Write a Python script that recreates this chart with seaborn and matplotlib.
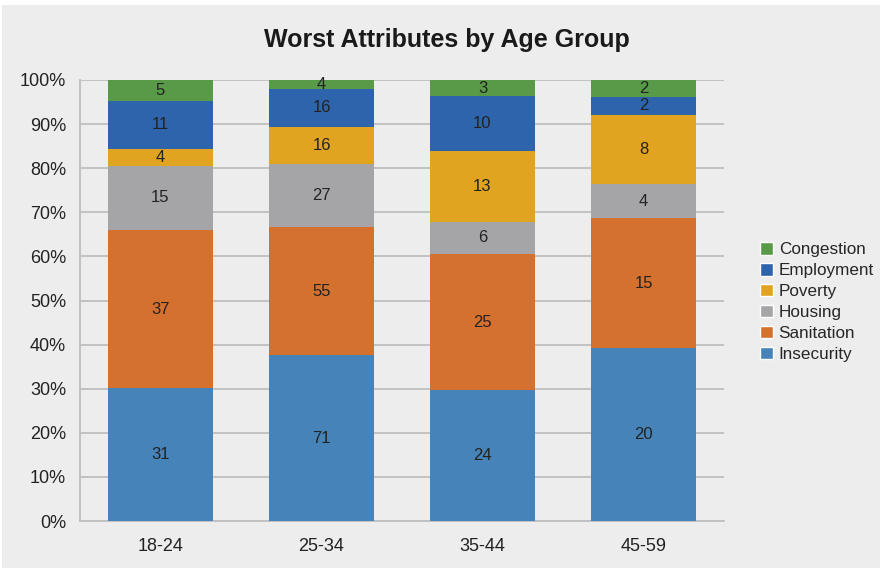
import numpy as np
import pandas as pd
import seaborn as sns
from matplotlib import pyplot as plt
from matplotlib.patches import Patch, Rectangle
from matplotlib import font_manager

ages = ["18-24", "25-34", "35-44", "45-59"]
insecurity = [31, 71, 24, 20]
sanitation = [37, 55, 25, 15]
housing = [15, 27, 6, 4]
poverty = [4, 16, 13, 8]
employment = [11, 16, 10, 2]
congestion = [5, 4, 3, 2]

series = ["Insecurity", "Sanitation", "Housing", "Poverty", "Employment", "Congestion"]
values = [insecurity, sanitation, housing, poverty, employment, congestion]
colors = ["#4683B8", "#D5712F", "#A5A5A8", "#E0A420", "#2E64AC", "#589A48"]

sns.set_style("white")
names = {f.name for f in font_manager.fontManager.ttflist}
fam = "Liberation Sans"
for cand in ["Liberation Sans Narrow", "DejaVu Sans Condensed"]:
    if cand in names:
        fam = cand
        break
plt.rcParams["font.family"] = [fam, "DejaVu Sans"]

counts = np.array(values, dtype=float)
pct = counts / counts.sum(axis=0) * 100
cum = np.cumsum(pct, axis=0)

fig = plt.figure(figsize=(8.82, 5.68), dpi=100, facecolor="white")
fig.patches.append(Rectangle((2 / 882, 0), 878 / 882, 563 / 568, transform=fig.transFigure,
                             facecolor="#EDEDED", edgecolor="none", zorder=-10))
ax = fig.add_axes([80 / 882, 1 - 521 / 568, 644 / 882, 441 / 568])
ax.set_facecolor("#EDEDED")

# draw cumulative layers from top down so lower ones overlap
for i in range(len(series) - 1, -1, -1):
    df = pd.DataFrame({"age": ages, "cum": cum[i]})
    sns.barplot(data=df, x="age", y="cum", color=colors[i], width=0.646,
                saturation=1, ax=ax, zorder=3, linewidth=0, edgecolor="none")

for i in range(len(series)):
    for j in range(len(ages)):
        mid = cum[i, j] - pct[i, j] / 2
        ax.text(j, mid, str(values[i][j]), ha="center", va="center",
                fontsize=12, color="#222222", zorder=5)

ax.set_xlim(-0.5, 3.5)
ax.set_ylim(0, 100)
ax.set_yticks(np.arange(0, 101, 10))
ax.set_yticklabels([f"{v}%" for v in range(0, 101, 10)])
ax.yaxis.grid(True, color="#BFBFBF", linewidth=1.3, zorder=0)
ax.set_axisbelow(True)
ax.tick_params(axis="both", length=0, labelsize=13, colors="#222222")
ax.tick_params(axis="x", pad=12)
ax.tick_params(axis="y", pad=10)
ax.set_xlabel("")
ax.set_ylabel("")
for s in ["top", "right"]:
    ax.spines[s].set_visible(False)
for s in ["left", "bottom"]:
    ax.spines[s].set_color("#BFBFBF")
    ax.spines[s].set_linewidth(1.3)

fig.text(447 / 882, 1 - 40 / 568, "Worst Attributes by Age Group", ha="center", va="center",
         fontsize=18, fontweight="bold", color="#1a1a1a")

handles = [Patch(facecolor=colors[i], label=series[i]) for i in range(len(series) - 1, -1, -1)]
fig.legend(handles=handles, loc="center left", bbox_to_anchor=(753 / 882, 1 - 302 / 568),
           frameon=False, fontsize=12.3, handlelength=0.75, handleheight=0.75,
           handletextpad=0.35, labelspacing=0.33, borderaxespad=0)

fig.savefig("out.png", dpi=100, facecolor=fig.get_facecolor())
